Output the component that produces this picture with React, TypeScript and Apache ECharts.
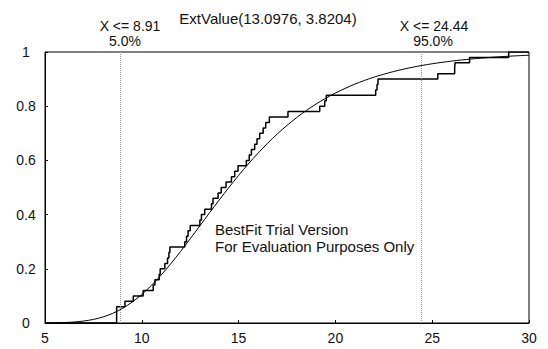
import React, { useEffect, useRef } from "react";
import * as echarts from "echarts";

// Empirical CDF steps (x where the step rises, new cumulative probability)
const stepX = [5, 8.70, 9.13, 9.56, 10.07, 10.59, 10.68, 10.90, 10.95, 11.19, 11.33, 11.40, 11.45, 12.22, 12.31, 12.39, 12.50, 13.00, 13.08, 13.25, 13.60, 13.68, 13.94, 14.10, 14.35, 14.63, 14.80, 14.97, 15.40, 15.55, 15.66, 15.83, 15.95, 16.09, 16.27, 16.40, 16.59, 17.55, 19.19, 19.45, 19.53, 22.08, 22.15, 22.20, 25.29, 26.16, 26.18, 26.93, 28.95, 30];
const stepY = [0, 0.06, 0.08, 0.10, 0.12, 0.14, 0.16, 0.18, 0.20, 0.22, 0.24, 0.26, 0.28, 0.30, 0.32, 0.34, 0.36, 0.38, 0.40, 0.42, 0.44, 0.46, 0.48, 0.50, 0.52, 0.54, 0.56, 0.58, 0.60, 0.62, 0.64, 0.66, 0.68, 0.70, 0.72, 0.74, 0.76, 0.78, 0.80, 0.82, 0.84, 0.86, 0.88, 0.90, 0.92, 0.94, 0.96, 0.98, 1.0, 1.0];

// Fitted ExtValue curve
const curveX = [5, 5.5, 6, 6.5, 7, 7.5, 8, 8.5, 9, 9.5, 10, 10.5, 11, 11.5, 12, 12.5, 13, 13.5, 14, 14.5, 15, 15.5, 16, 16.5, 17, 17.5, 18, 18.5, 19, 19.5, 20, 21, 22, 23, 24, 25, 26, 27, 28, 29, 30];
const curveY = [0.0002, 0.0007, 0.0016, 0.0036, 0.0072, 0.0132, 0.0224, 0.0357, 0.0538, 0.077, 0.1054, 0.1389, 0.177, 0.2189, 0.2637, 0.3107, 0.3585, 0.4066, 0.454, 0.5002, 0.5446, 0.5867, 0.6264, 0.6634, 0.6977, 0.7291, 0.758, 0.7842, 0.8079, 0.8294, 0.8486, 0.8813, 0.9073, 0.9278, 0.944, 0.9566, 0.9664, 0.9741, 0.98, 0.9846, 0.9881];

const markerX = [8.91, 24.44];
const markerLabels = ["X <= 8.91", "X <= 24.44"];
const markerPct = ["5.0%", "95.0%"];

const titleText = "ExtValue(13.0976, 3.8204)";
const noteLines = ["BestFit Trial Version", "For Evaluation Purposes Only"];

const FONT = "'Liberation Sans', Arial, sans-serif";

export default function App() {
  const ref = useRef<HTMLDivElement>(null);
  useEffect(() => {
    if (!ref.current) return;
    const chart = echarts.init(ref.current, undefined, { renderer: "svg" });
    const txt = (x: number, y: number, s: string, align = "center", size = 15) => ({
      type: "text",
      x,
      y,
      style: {
        text: s,
        fill: "#111",
        font: `${size}px ${FONT}`,
        align,
        verticalAlign: "middle",
      },
    });
    chart.setOption({
      animation: false,
      backgroundColor: "#fff",
      grid: {
        left: 45,
        right: 19,
        top: 52,
        bottom: 26,
        show: true,
        borderColor: "#000",
        borderWidth: 1,
      },
      xAxis: {
        type: "value",
        min: 5,
        max: 30,
        interval: 5,
        splitLine: { show: false },
        axisLine: { lineStyle: { color: "#000", width: 1 } },
        axisTick: { inside: true, length: 3, lineStyle: { color: "#000" } },
        axisLabel: { color: "#111", fontSize: 14, fontFamily: FONT, margin: 8 },
      },
      yAxis: {
        type: "value",
        min: 0,
        max: 1,
        interval: 0.2,
        splitLine: { show: false },
        axisLine: { show: true, lineStyle: { color: "#000", width: 1 } },
        axisTick: { show: true, inside: true, length: 3, lineStyle: { color: "#000" } },
        axisLabel: { color: "#111", fontSize: 14, fontFamily: FONT, margin: 19, align: "center" },
      },
      series: [
        {
          type: "line",
          step: "end",
          symbol: "none",
          data: stepX.map((x, i) => [x, stepY[i]]),
          lineStyle: { color: "#000", width: 1.5 },
          silent: true,
        },
        {
          type: "line",
          smooth: 0.3,
          symbol: "none",
          data: curveX.map((x, i) => [x, curveY[i]]),
          lineStyle: { color: "#000", width: 1 },
          silent: true,
          markLine: {
            silent: true,
            symbol: "none",
            label: { show: false },
            lineStyle: { color: "#999", type: "dotted", width: 1 },
            data: markerX.map((x) => ({ xAxis: x })),
          },
        },
      ],
      graphic: [
        txt(268, 18, titleText),
        txt(130, 26, markerLabels[0], "center", 14),
        txt(125, 40.5, markerPct[0], "center", 14),
        txt(434, 26, markerLabels[1], "center", 14),
        txt(433, 40.5, markerPct[1], "center", 14),
        txt(215, 229, noteLines[0], "left"),
        txt(215, 246, noteLines[1], "left"),
      ],
    });
    return () => chart.dispose();
  }, []);
  return (
    <div
      ref={ref}
      style={{ position: "fixed", left: 0, top: 0, width: 548, height: 349, background: "#fff" }}
    />
  );
}
